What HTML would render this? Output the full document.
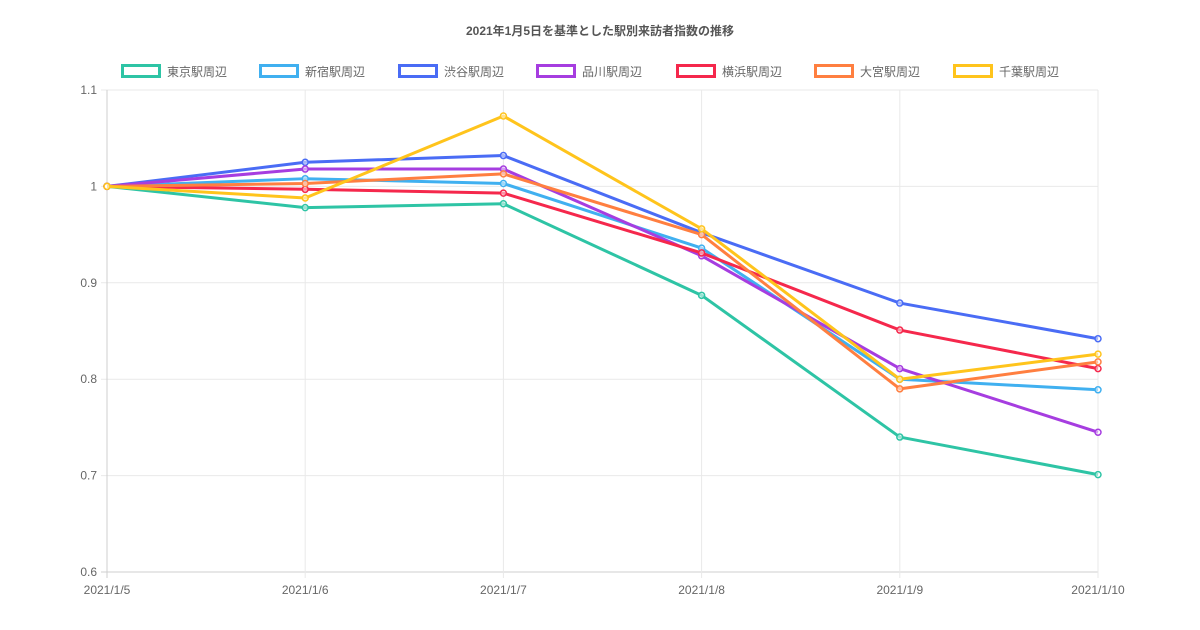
<!DOCTYPE html>
<html><head><meta charset="utf-8">
<style>
html,body{margin:0;padding:0;background:#fff;}
svg{display:block;font-family:"Liberation Sans","Noto Sans CJK JP",sans-serif;}
</style></head>
<body>
<svg id="chart" width="1200" height="630" viewBox="0 0 1200 630">
<text x="600" y="35" text-anchor="middle" font-size="12" font-weight="bold" fill="#555">2021年1月5日を基準とした駅別来訪者指数の推移</text>
<g id="legend"></g>
<g id="grid"></g>
<g id="axes"></g>
<g id="series"></g>
</svg>
<script>
const categories = ["2021/1/5","2021/1/6","2021/1/7","2021/1/8","2021/1/9","2021/1/10"];
const yTicks = [0.6,0.7,0.8,0.9,1,1.1];
const yTickLabels = ["0.6","0.7","0.8","0.9","1","1.1"];
const seriesNames = ["東京駅周辺","新宿駅周辺","渋谷駅周辺","品川駅周辺","横浜駅周辺","大宮駅周辺","千葉駅周辺"];
const tokyo = [1,0.978,0.982,0.887,0.740,0.701];
const shinjuku = [1,1.008,1.003,0.936,0.800,0.789];
const shibuya = [1,1.025,1.032,0.952,0.879,0.842];
const shinagawa = [1,1.018,1.018,0.928,0.811,0.745];
const yokohama = [1,0.997,0.993,0.931,0.851,0.811];
const omiya = [1,1.003,1.013,0.950,0.790,0.818];
const chiba = [1,0.988,1.073,0.956,0.800,0.826];
const seriesValues = [tokyo,shinjuku,shibuya,shinagawa,yokohama,omiya,chiba];
const colors = ["#2ec4a5","#40b0f0","#4a6cf5","#a63de0","#f5284c","#ff7f40","#ffc41c"];

const NS="http://www.w3.org/2000/svg";
const L=107,R=1098,T=90,B=572,yMin=0.6,yMax=1.1;
const xS=i=>L+(R-L)*i/(categories.length-1);
const yS=v=>B-(v-yMin)/(yMax-yMin)*(B-T);
function mk(tag,attrs,parent){const e=document.createElementNS(NS,tag);for(const k in attrs)e.setAttribute(k,attrs[k]);parent.appendChild(e);return e;}
const grid=document.getElementById('grid'),axes=document.getElementById('axes'),ser=document.getElementById('series'),leg=document.getElementById('legend');
yTicks.forEach((v,i)=>{
  const l=mk('line',{x1:L-6,x2:R,y1:yS(v),y2:yS(v),stroke:i===0?'#cfcfcf':'#e9e9e9','stroke-width':1},grid);
  
  
  const t=mk('text',{x:L-10,y:yS(v)+4,'text-anchor':'end','font-size':12,fill:'#666'},axes);
  t.textContent=yTickLabels[i];
  
  
});
categories.forEach((c,i)=>{
  const l=mk('line',{x1:xS(i),x2:xS(i),y1:T,y2:B+6,stroke:i===0?'#cfcfcf':'#e9e9e9','stroke-width':1},grid);
  
  
  const t=mk('text',{x:xS(i),y:B+22,'text-anchor':'middle','font-size':12,fill:'#666'},axes);
  t.textContent=c;
  
  
});
seriesValues.forEach((vals,s)=>{
  const g=mk('g',{},ser);
  
  
  const p=mk('polyline',{points:vals.map((v,i)=>xS(i)+','+yS(v)).join(' '),fill:'none',stroke:colors[s],'stroke-width':3,'stroke-linejoin':'round'},g);
  
  
  vals.forEach((v,i)=>{
    const c=mk('circle',{cx:xS(i),cy:yS(v),r:3,fill:'#fff','fill-opacity':0.5,stroke:colors[s],'stroke-width':1.5},g);
    
    
  });
});
const legX=[121,259,398,536,676,814,953];
seriesNames.forEach((n,s)=>{
  const g=mk('g',{},leg);
  
  
  mk('rect',{x:legX[s]+1.5,y:65.5,width:37,height:11,fill:'#fff',stroke:colors[s],'stroke-width':3},g);
  const t=mk('text',{x:legX[s]+46,y:76,'font-size':12,fill:'#666'},g);
  t.textContent=n;
});
</script>
</body></html>
